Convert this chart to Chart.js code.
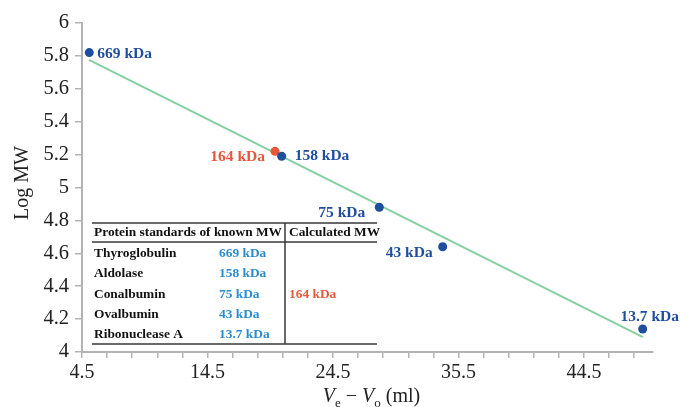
<!DOCTYPE html>
<html><head><meta charset="utf-8">
<script src="https://cdn.jsdelivr.net/npm/chart.js@4"></script>
<style>html,body{margin:0;padding:0;background:#fff}#wrap{width:680px;height:407px}</style>
</head><body><div id="wrap"><canvas id="c" width="680" height="407"></canvas></div>
<script>
// ---- data ----
const standardNames = ['Thyroglobulin', 'Aldolase', 'Conalbumin', 'Ovalbumin', 'Ribonuclease A'];
const standardMW = ['669 kDa', '158 kDa', '75 kDa', '43 kDa', '13.7 kDa'];
const standardVolume = [5.08, 20.41, 28.19, 33.24, 49.18];
const standardLogMW = [5.82, 5.19, 4.88, 4.64, 4.14];
const unknownLabel = ['164 kDa'];
const unknownVolume = [19.88];
const unknownLogMW = [5.22];
const calculatedMW = ['', '', '164 kDa', '', ''];
const fitVolume = [5.06, 49.2];
const fitLogMW = [5.776, 4.09];
const xTickValues = [4.5, 14.5, 24.5, 34.5, 44.5];
const xTickLabels = ['4.5', '14.5', '24.5', '35.5', '44.5'];
const yTickLabels = ['4', '4.2', '4.4', '4.6', '4.8', '5', '5.2', '5.4', '5.6', '5.8', '6'];

// ---- styles ----
const BLUE = '#1f4e9e', RED = '#e8573c', LIGHTBLUE = '#2a8ccf', GREEN = '#87cfa0', AXIS = '#b4b4b4';
const SERIF = '"Liberation Serif", "Times New Roman", serif';
const stdLabelPlace = [
  {dx: 8, dy: 1, align: 'left'},
  {dx: 13, dy: 0, align: 'left'},
  {dx: -14, dy: 6, align: 'right'},
  {dx: -10, dy: 6, align: 'right'},
  {dx: 7, dy: -12, align: 'center'}
];
const unkLabelPlace = [{dx: -10, dy: 6, align: 'right'}];

const xMin = 4.5, xMax = 50, xMinorStep = 2;

const overlay = {
  id: 'overlay',
  afterDatasetsDraw(chart) {
    const ctx = chart.ctx;
    ctx.save();
    // point labels
    ctx.font = 'bold 15.5px ' + SERIF;
    ctx.textBaseline = 'middle';
    const drawLabels = (meta, labels, place, color) => {
      meta.data.forEach((el, i) => {
        const p = place[i];
        ctx.fillStyle = color;
        ctx.textAlign = p.align;
        ctx.fillText(labels[i], el.x + p.dx, el.y + p.dy);
      });
    };
    drawLabels(chart.getDatasetMeta(0), standardMW, stdLabelPlace, BLUE);
    drawLabels(chart.getDatasetMeta(1), unknownLabel, unkLabelPlace, RED);

    // table
    const L = 92, R = 377, top = 223, hdr = 242, bot = 344, div = 285;
    ctx.strokeStyle = '#3a3a3a';
    ctx.lineWidth = 1.5;
    ctx.beginPath();
    ctx.moveTo(L, top); ctx.lineTo(R, top);
    ctx.moveTo(L, hdr); ctx.lineTo(R, hdr);
    ctx.moveTo(L, bot); ctx.lineTo(R, bot);
    ctx.moveTo(div, top); ctx.lineTo(div, bot);
    ctx.stroke();
    ctx.font = 'bold 13.4px ' + SERIF;
    ctx.textAlign = 'left';
    ctx.fillStyle = '#111';
    ctx.fillText('Protein standards of known MW', 94, 233);
    ctx.fillText('Calculated MW', 289, 233);
    const rowY = [254, 274, 295, 315, 335];
    standardNames.forEach((n, i) => {
      ctx.fillStyle = '#111';
      ctx.fillText(n, 94, rowY[i]);
      ctx.fillStyle = LIGHTBLUE;
      ctx.fillText(standardMW[i], 219, rowY[i]);
      if (calculatedMW[i]) {
        ctx.fillStyle = RED;
        ctx.fillText(calculatedMW[i], 289, rowY[i]);
      }
    });

    // axis titles
    ctx.fillStyle = '#222';
    ctx.font = '20px ' + SERIF;
    ctx.save();
    ctx.translate(23, 183);
    ctx.rotate(-Math.PI / 2);
    ctx.textAlign = 'center';
    ctx.fillText('Log MW', 0, 0);
    ctx.restore();

    // x title: V_e − V_o (ml)
    const parts = [
      {t: 'V', f: 'italic 20px ' + SERIF, dy: 0},
      {t: 'e', f: '13px ' + SERIF, dy: 5},
      {t: ' \u2212 ', f: '20px ' + SERIF, dy: 0},
      {t: 'V', f: 'italic 20px ' + SERIF, dy: 0},
      {t: 'o', f: '13px ' + SERIF, dy: 5},
      {t: ' (ml)', f: '20px ' + SERIF, dy: 0}
    ];
    let total = 0;
    parts.forEach(p => { ctx.font = p.f; p.w = ctx.measureText(p.t).width; total += p.w; });
    const cx = (chart.chartArea.left + chart.chartArea.right) / 2 + 4;
    let x = cx - total / 2;
    ctx.textAlign = 'left';
    ctx.textBaseline = 'alphabetic';
    parts.forEach(p => { ctx.font = p.f; ctx.fillText(p.t, x, 402 + p.dy); x += p.w; });
    ctx.restore();
  }
};

new Chart(document.getElementById('c'), {
  type: 'scatter',
  data: {
    datasets: [
      {
        label: 'Standards',
        data: standardVolume.map((v, i) => ({x: v, y: standardLogMW[i]})),
        backgroundColor: BLUE, borderColor: BLUE, pointRadius: 4.5, pointHoverRadius: 4.5, borderWidth: 0
      },
      {
        label: 'Unknown',
        data: unknownVolume.map((v, i) => ({x: v, y: unknownLogMW[i]})),
        backgroundColor: RED, borderColor: RED, pointRadius: 4.5, pointHoverRadius: 4.5, borderWidth: 0
      },
      {
        type: 'line',
        label: 'Fit',
        data: fitVolume.map((v, i) => ({x: v, y: fitLogMW[i]})),
        borderColor: GREEN, borderWidth: 2, pointRadius: 0, fill: false, showLine: true
      }
    ]
  },
  options: {
    responsive: false,
    animation: false,
    devicePixelRatio: 1,
    layout: {padding: {top: 23, right: 27, left: 0, bottom: 0}},
    plugins: {legend: {display: false}, tooltip: {enabled: false}},
    scales: {
      x: {
        type: 'linear', min: xMin, max: xMax,
        afterBuildTicks(scale) {
          const t = [];
          for (let v = xMin; v <= xMax + 1e-9; v += xMinorStep) t.push({value: +v.toFixed(2)});
          scale.ticks = t;
        },
        afterFit(scale) { scale.height = 55; },
        border: {color: AXIS, width: 2},
        grid: {drawOnChartArea: false, color: AXIS, tickLength: 6, lineWidth: 1.5},
        ticks: {
          autoSkip: false, maxRotation: 0, padding: 3,
          color: '#222', font: {family: SERIF, size: 20},
          callback(v) {
            const i = xTickValues.findIndex(t => Math.abs(t - v) < 1e-6);
            return i >= 0 ? xTickLabels[i] : '';
          }
        }
      },
      y: {
        min: 4, max: 6,
        afterBuildTicks(scale) { scale.ticks = yTickLabels.map(l => ({value: parseFloat(l)})); },
        afterFit(scale) { scale.width = 82; },
        border: {color: AXIS, width: 2},
        grid: {drawOnChartArea: false, color: AXIS, tickLength: 7, lineWidth: 1.5},
        ticks: {
          autoSkip: false, padding: 6,
          color: '#222', font: {family: SERIF, size: 20.5},
          callback(v) {
            const i = yTickLabels.findIndex(l => Math.abs(parseFloat(l) - v) < 1e-6);
            return i >= 0 ? yTickLabels[i] : '';
          }
        }
      }
    }
  },
  plugins: [overlay]
});
</script></body></html>
